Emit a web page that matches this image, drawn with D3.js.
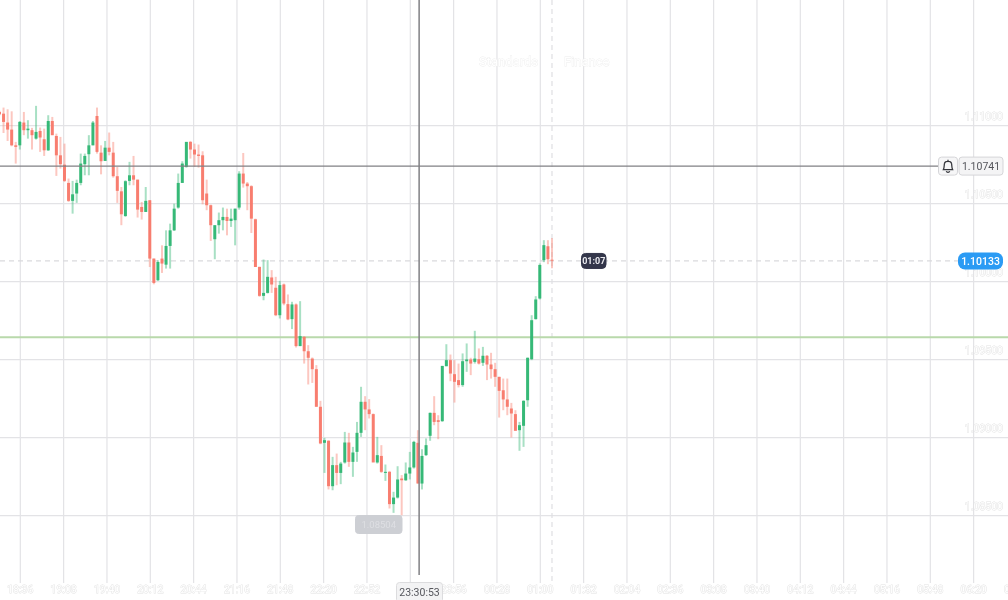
<!DOCTYPE html>
<html>
<head>
<meta charset="utf-8">
<script src="https://cdn.jsdelivr.net/npm/d3@7"></script>
<style>
  html, body { margin: 0; padding: 0; background: #fff; overflow: hidden; }
  svg { display: block; font-family: Roboto, 'Noto Sans', sans-serif; }
</style>
</head>
<body>
<script>
// 3 minute candles, first one at 18:21
let candleStart = new Date(2020, 0, 1, 18, 21);
let opens = [
  1.11085,1.11074,1.11017,1.10972,1.10871,1.10871,1.11017,1.10968,1.10968,1.10914,
  1.10963,1.10910,1.10839,1.11027,1.10931,1.10807,1.10747,1.10630,1.10515,1.10562,
  1.10630,1.10750,1.10814,1.10871,1.11059,1.10824,1.10771,1.10856,1.10824,1.10673,
  1.10576,1.10418,1.10643,1.10679,1.10651,1.10476,1.10444,1.10519,1.10145,1.10006,
  1.10145,1.10106,1.10226,1.10326,1.10472,1.10630,1.10732,1.10893,1.10844,1.10812,
  1.10807,1.10562,1.10487,1.10269,1.10359,1.10391,1.10412,1.10386,1.10391,1.10472,
  1.10690,1.10626,1.10609,1.10397,1.10092,1.09906,1.09925,1.10024,1.09958,1.09782,
  1.09979,1.09853,1.09757,1.09851,1.09584,1.09643,1.09551,1.09504,1.09436,1.09195,
  1.08964,1.08977,1.08686,1.08821,1.08771,1.08838,1.08966,1.08842,1.08906,1.09028,
  1.09227,1.09178,1.09148,1.08838,1.08880,1.08771,1.08778,1.08571,1.08613,1.08735,
  1.08724,1.08767,1.08806,1.08964,1.08703,1.08885,1.09009,1.09156,1.09109,1.09103,
  1.09455,1.09494,1.09404,1.09366,1.09334,1.09487,1.09498,1.09483,1.09500,1.09477,
  1.09522,1.09466,1.09436,1.09387,1.09301,1.09242,1.09184,1.09148,1.09045,1.09073,
  1.09237,1.09500,1.09757,1.09889,1.10135,1.10224,1.10138
];
let highs = [
  1.11092,1.11113,1.11102,1.11089,1.10893,1.11027,1.11085,1.11032,1.10983,1.11124,
  1.10985,1.10978,1.11064,1.11053,1.10946,1.10925,1.10882,1.10658,1.10643,1.10651,
  1.10818,1.10818,1.10936,1.11027,1.11113,1.10871,1.10899,1.10953,1.10893,1.10732,
  1.10604,1.10647,1.10765,1.10803,1.10651,1.10508,1.10604,1.10519,1.10145,1.10134,
  1.10230,1.10326,1.10369,1.10497,1.10690,1.10769,1.10893,1.10899,1.10882,1.10876,
  1.10833,1.10651,1.10491,1.10359,1.10440,1.10472,1.10465,1.10465,1.10465,1.10705,
  1.10822,1.10636,1.10615,1.10401,1.10092,1.10139,1.10135,1.10071,1.10028,1.10002,
  1.09985,1.09915,1.09868,1.09857,1.09872,1.09648,1.09590,1.09511,1.09462,1.09233,
  1.08996,1.08981,1.08874,1.08895,1.08842,1.09034,1.09028,1.08938,1.09098,1.09323,
  1.09263,1.09244,1.09152,1.09002,1.08949,1.08825,1.08784,1.08650,1.08814,1.08757,
  1.08838,1.08906,1.08977,1.09045,1.08923,1.08992,1.09158,1.09263,1.09141,1.09457,
  1.09596,1.09530,1.09494,1.09472,1.09537,1.09601,1.09509,1.09682,1.09569,1.09579,
  1.09526,1.09541,1.09477,1.09387,1.09376,1.09376,1.09220,1.09173,1.09098,1.09237,
  1.09511,1.09782,1.09904,1.10114,1.10263,1.10263,1.10276
];
let lows = [
  1.11064,1.10950,1.10899,1.10865,1.10754,1.10844,1.10936,1.10914,1.10844,1.10908,
  1.10829,1.10803,1.10835,1.10936,1.10675,1.10722,1.10636,1.10508,1.10433,1.10502,
  1.10615,1.10679,1.10679,1.10871,1.10818,1.10685,1.10771,1.10807,1.10664,1.10502,
  1.10359,1.10412,1.10615,1.10615,1.10408,1.10395,1.10444,1.10091,1.09980,1.10002,
  1.10053,1.10081,1.10081,1.10322,1.10465,1.10630,1.10728,1.10786,1.10732,1.10728,
  1.10493,1.10455,1.10258,1.10141,1.10305,1.10326,1.10294,1.10348,1.10230,1.10459,
  1.10600,1.10455,1.10309,1.10091,1.09900,1.09878,1.09921,1.09925,1.09776,1.09761,
  1.09846,1.09750,1.09693,1.09575,1.09584,1.09472,1.09338,1.09348,1.09195,1.08955,
  1.08771,1.08665,1.08660,1.08692,1.08699,1.08831,1.08810,1.08746,1.08842,1.09002,
  1.09045,1.09120,1.08842,1.08831,1.08771,1.08720,1.08543,1.08515,1.08607,1.08500,
  1.08720,1.08729,1.08799,1.08703,1.08665,1.08880,1.08977,1.09077,1.08987,1.09098,
  1.09455,1.09359,1.09222,1.09319,1.09323,1.09419,1.09398,1.09472,1.09466,1.09457,
  1.09366,1.09376,1.09323,1.09126,1.09173,1.09141,1.08998,1.09041,1.08913,1.08938,
  1.09195,1.09494,1.09754,1.09883,1.10122,1.10109,1.10083
];
let closes = [
  1.11070,1.11021,1.10972,1.10871,1.10861,1.11021,1.10968,1.10978,1.10936,1.10957,
  1.10921,1.10839,1.11027,1.10936,1.10807,1.10750,1.10643,1.10515,1.10557,1.10630,
  1.10754,1.10803,1.10871,1.11017,1.10829,1.10769,1.10856,1.10829,1.10673,1.10579,
  1.10429,1.10641,1.10679,1.10651,1.10459,1.10444,1.10515,1.10145,1.09989,1.10123,
  1.10113,1.10226,1.10326,1.10465,1.10630,1.10754,1.10893,1.10844,1.10812,1.10803,
  1.10519,1.10487,1.10359,1.10359,1.10391,1.10412,1.10386,1.10401,1.10465,1.10690,
  1.10626,1.10609,1.10401,1.10091,1.09906,1.09925,1.10028,1.09979,1.09782,1.09975,
  1.09857,1.09755,1.09851,1.09584,1.09648,1.09551,1.09509,1.09436,1.09195,1.08960,
  1.08981,1.08686,1.08821,1.08771,1.08831,1.08966,1.08842,1.08902,1.09028,1.09227,
  1.09178,1.09148,1.08838,1.08885,1.08778,1.08778,1.08571,1.08613,1.08729,1.08724,
  1.08767,1.08806,1.08970,1.08703,1.08880,1.08949,1.09156,1.09098,1.09098,1.09457,
  1.09494,1.09408,1.09355,1.09334,1.09487,1.09498,1.09472,1.09504,1.09472,1.09522,
  1.09466,1.09436,1.09387,1.09297,1.09242,1.09195,1.09152,1.09041,1.09077,1.09233,
  1.09509,1.09750,1.09883,1.10104,1.10231,1.10141,1.10133
];
let priceTicks = [1.11, 1.105, 1.1, 1.095, 1.09, 1.085];
// one time tick every 32 minutes, from 18:36
let timeTickCount = 25;
let alertPrice = 1.10741;
let currentPrice = 1.10133;
let levelPrice = 1.09641;
let lowPrice = 1.08504;
let crosshairTime = new Date(2020, 0, 1, 23, 30, 53);
let countdown = '01:07';
let watermark = ['Standards', 'Finance'];

let dim = { width: 1008, height: 600 };
let svg = d3.select('body').append('svg')
  .attr('width', dim.width)
  .attr('height', dim.height)
  .style('filter', 'blur(0.6px)');

let scaleY = d3.scaleLinear().domain([1.11, 1.085]).range([125.2, 515.2]);
let scaleX = d3.scaleTime()
  .domain([new Date(2020, 0, 1, 18, 36), new Date(2020, 0, 2, 1, 0)])
  .range([19.8, 539.8]);

let candles = opens.map((o, i) => ({
  time: d3.timeMinute.offset(candleStart, i * 3),
  open: o,
  high: highs[i],
  low: lows[i],
  close: closes[i]
}));
let timeTicks = d3.range(timeTickCount).map(i => d3.timeMinute.offset(new Date(2020, 0, 1, 18, 36), i * 32));

// grid + axes
let xAxis = d3.axisBottom(scaleX)
  .tickValues(timeTicks)
  .tickFormat(d3.timeFormat('%H:%M'))
  .tickSize(-583)
  .tickSizeOuter(0)
  .tickPadding(3);
let gx = svg.append('g').attr('transform', 'translate(0, 583)').call(xAxis);

let yAxis = d3.axisRight(scaleY)
  .tickValues(priceTicks)
  .tickFormat(d3.format('.5f'))
  .tickSize(dim.width)
  .tickSizeOuter(0);
let gy = svg.append('g').call(yAxis);

svg.selectAll('.domain').remove();
svg.selectAll('.tick line').attr('stroke', '#e3e3e6').attr('stroke-width', 1.2);
gy.selectAll('text').attr('x', 1003).attr('dy', -8).attr('dominant-baseline', 'middle').attr('text-anchor', 'end');
svg.selectAll('.tick text')
  .attr('fill', '#fff')
  .attr('stroke', '#e2e2e2')
  .attr('stroke-width', 0.9)
  .attr('paint-order', 'stroke')
  .attr('font-size', 10.5)
  .attr('font-family', 'Roboto, sans-serif');

// watermark, almost the same colour as the page
svg.selectAll('.mark').data(watermark).join('text')
  .attr('class', 'mark')
  .attr('x', (d, i) => (i ? 564 : 479))
  .attr('y', 66)
  .attr('fill', '#fff')
  .attr('stroke', '#ededed')
  .attr('stroke-width', 0.8)
  .attr('paint-order', 'stroke')
  .attr('font-size', 13)
  .text(d => d);

// current candle marker and price lines
svg.append('line')
  .attr('x1', scaleX(candles[candles.length - 1].time))
  .attr('x2', scaleX(candles[candles.length - 1].time))
  .attr('y1', 0).attr('y2', 583)
  .attr('stroke', '#dfdfe2').attr('stroke-width', 1.2).attr('stroke-dasharray', '5 4');
svg.append('line')
  .attr('x1', 0).attr('x2', 958)
  .attr('y1', scaleY(currentPrice) + 0.5).attr('y2', scaleY(currentPrice) + 0.5)
  .attr('stroke', '#dadadd').attr('stroke-width', 1.2).attr('stroke-dasharray', '5 4');
svg.append('line')
  .attr('x1', 0).attr('x2', dim.width)
  .attr('y1', scaleY(levelPrice)).attr('y2', scaleY(levelPrice))
  .attr('stroke', '#b9d9ab').attr('stroke-width', 2);

// candles
let up = d => d.close >= d.open;
let color = d => (up(d) ? '#2fb673' : '#f8796a');
svg.append('g').selectAll('line').data(candles).join('line')
  .attr('x1', d => scaleX(d.time))
  .attr('x2', d => scaleX(d.time))
  .attr('y1', d => scaleY(d.high))
  .attr('y2', d => scaleY(d.low))
  .attr('stroke', color)
  .attr('stroke-opacity', 0.42)
  .attr('stroke-width', 2);
svg.append('g').selectAll('rect').data(candles).join('rect')
  .attr('x', d => scaleX(d.time) - 1.5)
  .attr('width', 3)
  .attr('y', d => scaleY(Math.max(d.open, d.close)))
  .attr('height', d => Math.max(1, Math.abs(scaleY(d.open) - scaleY(d.close))))
  .attr('fill', color)
  .attr('fill-opacity', 0.95);

// crosshair
svg.append('line')
  .attr('x1', scaleX(crosshairTime)).attr('x2', scaleX(crosshairTime))
  .attr('y1', 0).attr('y2', 575)
  .attr('stroke', '#808084').attr('stroke-width', 1.5);
svg.append('line')
  .attr('x1', 0).attr('x2', 939)
  .attr('y1', scaleY(alertPrice) + 0.5).attr('y2', scaleY(alertPrice) + 0.5)
  .attr('stroke', '#808084').attr('stroke-width', 1.2);

function tag(x, y, w, h, fill, stroke, textColor, label, size, weight) {
  let g = svg.append('g');
  g.append('rect')
    .attr('x', x).attr('y', y).attr('width', w).attr('height', h)
    .attr('rx', h > 17 ? 3 : 4)
    .attr('fill', fill)
    .attr('stroke', stroke);
  g.append('text')
    .attr('x', x + w / 2).attr('y', y + h / 2)
    .attr('dy', '0.35em')
    .attr('text-anchor', 'middle')
    .attr('fill', textColor)
    .attr('font-size', size)
    .attr('font-weight', weight)
    .text(label);
  return g;
}

// right side tags
let alertY = scaleY(alertPrice);
tag(959, alertY - 8.5, 44, 18, '#f4f4f5', '#d5d5d8', '#55565c', alertPrice.toFixed(5), 10.5, 400);
tag(938.5, alertY - 8.5, 19, 18, '#f6f6f7', '#d5d5d8', '#333', '', 10, 400);
svg.append('path')
  .attr('transform', `translate(948, ${alertY + 0.5}) scale(1.15)`)
  .attr('d', 'M-4,3 C-3,1 -3.5,-1 -3,-2.5 C-2.4,-4.6 2.4,-4.6 3,-2.5 C3.5,-1 3,1 4,3 Z M-1.5,4.5 C-1,5.7 1,5.7 1.5,4.5 M0,-5.6 L0,-4.4')
  .attr('fill', 'none')
  .attr('stroke', '#33343a')
  .attr('stroke-width', 1.1);

let curY = scaleY(currentPrice);
svg.append('rect')
  .attr('x', 958).attr('y', curY - 8).attr('width', 45).attr('height', 17).attr('rx', 7)
  .attr('fill', '#2b9bf4');
svg.append('text')
  .attr('x', 980.5).attr('y', curY + 0.5).attr('dy', '0.35em')
  .attr('text-anchor', 'middle').attr('fill', '#fff')
  .attr('font-size', 10.5).attr('font-weight', 500)
  .text(currentPrice.toFixed(5));

tag(581.5, curY - 7, 24.5, 15, '#33364a', '#33364a', '#e9e9ee', countdown, 9, 700);
tag(355.5, 515.5, 46.5, 18, '#cdcfd4', '#cdcfd4', '#dedfe3', lowPrice.toFixed(5), 9.5, 400);
tag(396.5, 582.5, 46, 20, '#f3f3f4', '#dcdcde', '#55565c', d3.timeFormat('%H:%M:%S')(crosshairTime), 10.5, 400);
</script>
</body>
</html>
